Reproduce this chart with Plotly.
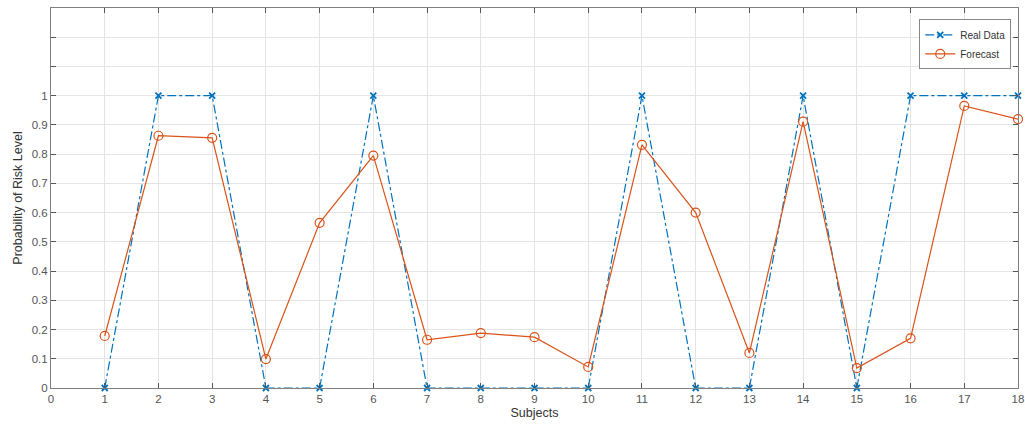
import plotly.graph_objects as go

subjects = list(range(1, 19))
real_data = [0, 1, 1, 0, 0, 1, 0, 0, 0, 0, 1, 0, 0, 1, 0, 1, 1, 1]
forecast = [0.178, 0.863, 0.856, 0.099, 0.565, 0.795, 0.165, 0.188, 0.174, 0.072,
            0.832, 0.600, 0.120, 0.911, 0.068, 0.170, 0.965, 0.920]
x_ticks = list(range(0, 19))
y_ticks = [round(0.1 * i, 1) for i in range(14)]
y_labels = ["0", "0.1", "0.2", "0.3", "0.4", "0.5", "0.6", "0.7", "0.8", "0.9", "1", "", "", ""]

blue = "#0072BD"
orange = "#D95319"

fig = go.Figure()
fig.add_trace(go.Scatter(
    x=subjects, y=real_data, name="Real Data", mode="lines+markers",
    line=dict(color=blue, width=1.2, dash="dashdot"),
    marker=dict(symbol="x-thin", size=6, line=dict(color=blue, width=1.8)),
    cliponaxis=False,
))
fig.add_trace(go.Scatter(
    x=subjects, y=forecast, name="Forecast", mode="lines+markers",
    line=dict(color=orange, width=1.2),
    marker=dict(symbol="circle-open", size=9, color=orange, line=dict(width=1.2)),
    cliponaxis=False,
))

axis_common = dict(
    showline=True, linecolor="#808080", linewidth=1, mirror="ticks",
    ticks="inside", ticklen=5, tickcolor="#555555",
    showgrid=True, gridcolor="#e4e4e4", gridwidth=1, zeroline=False,
    automargin=False,
    tickfont=dict(family="Liberation Sans, Arial", size=11.5, color="#555555"),
)

fig.update_xaxes(range=[0, 18], tickvals=x_ticks,
                 title=dict(text="Subjects", font=dict(family="Liberation Sans, Arial", size=12.5, color="#333333"), standoff=4),
                 **axis_common)
fig.update_yaxes(range=[0, 1.3], tickvals=y_ticks, ticktext=y_labels,
                 title=dict(text="Probability of Risk Level", font=dict(family="Liberation Sans, Arial", size=12.5, color="#333333"), standoff=6),
                 **axis_common)

fig.update_layout(
    width=1025, height=432,
    margin=dict(l=51, r=7, t=8, b=44),
    paper_bgcolor="white", plot_bgcolor="white",
    showlegend=True,
    legend=dict(
        x=0.993, y=0.97, xanchor="right", yanchor="top",
        bgcolor="white", bordercolor="#888888", borderwidth=1,
        font=dict(family="Liberation Sans, Arial", size=10, color="#333333"),
        tracegroupgap=0, itemwidth=30,
    ),
)

fig.write_html("out.html", config={"displayModeBar": False},
               post_script="document.body.style.margin='0';document.body.style.overflow='hidden';")
